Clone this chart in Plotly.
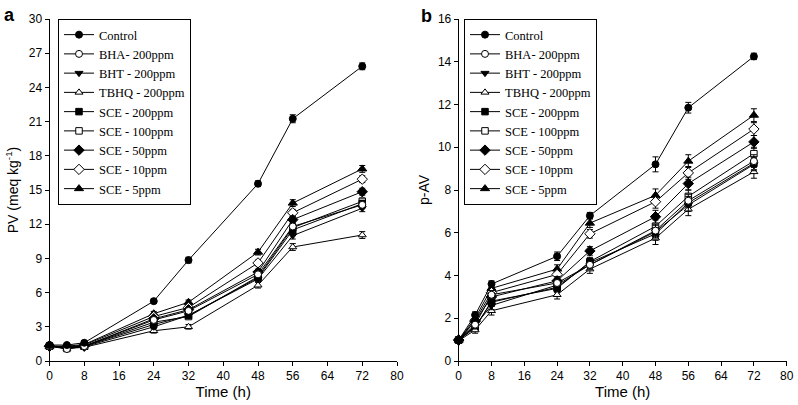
import plotly.graph_objects as go

time_h = [0, 4, 8, 24, 32, 48, 56, 72]

series_names = ["Control", "BHA- 200ppm", "BHT - 200ppm", "TBHQ - 200ppm",
                "SCE - 200ppm", "SCE - 100ppm", "SCE - 50ppm", "SCE - 10ppm", "SCE - 5ppm"]

# Panel a: peroxide value (meq kg-1)
pv_control = [1.4, 1.4, 1.6, 5.25, 8.85, 15.55, 21.25, 25.85]
pv_bha = [1.3, 1.05, 1.3, 3.6, 4.4, 7.6, 11.8, 13.7]
pv_bht = [1.3, 1.2, 1.25, 3.0, 4.0, 7.2, 11.0, 13.4]
pv_tbhq = [1.3, 1.1, 1.2, 2.65, 3.0, 6.65, 10.0, 11.05]
pv_sce200 = [1.3, 1.2, 1.3, 3.2, 4.0, 7.3, 11.5, 13.8]
pv_sce100 = [1.3, 1.1, 1.3, 3.4, 3.9, 7.4, 11.7, 14.0]
pv_sce50 = [1.3, 1.2, 1.3, 3.7, 4.5, 7.8, 12.4, 14.85]
pv_sce10 = [1.3, 1.25, 1.4, 3.9, 4.7, 8.6, 13.0, 15.95]
pv_sce5 = [1.3, 1.3, 1.45, 4.15, 5.15, 9.55, 13.85, 16.85]

pv_err_control = [0.15, 0.15, 0.15, 0.2, 0.25, 0.25, 0.35, 0.3]
pv_err_other = [0.1, 0.1, 0.1, 0.2, 0.2, 0.25, 0.3, 0.3]

# Panel b: p-anisidine value
pav_control = [0.98, 2.15, 3.6, 4.9, 6.8, 9.2, 11.85, 14.25]
pav_bha = [0.98, 1.7, 3.1, 3.65, 4.5, 6.1, 7.5, 9.35]
pav_bht = [0.98, 1.65, 2.6, 3.55, 4.5, 6.05, 7.3, 9.2]
pav_tbhq = [0.95, 1.45, 2.35, 3.1, 4.3, 5.75, 7.1, 8.85]
pav_sce200 = [0.98, 1.6, 2.75, 3.45, 4.6, 5.95, 7.4, 9.25]
pav_sce100 = [0.98, 1.55, 2.8, 3.4, 4.65, 6.3, 7.7, 9.7]
pav_sce50 = [0.98, 1.85, 3.0, 3.75, 5.15, 6.75, 8.3, 10.25]
pav_sce10 = [0.98, 1.9, 3.2, 4.05, 5.95, 7.45, 8.8, 10.85]
pav_sce5 = [0.98, 2.0, 3.4, 4.3, 6.45, 7.75, 9.35, 11.5]

pav_err_control = [0.1, 0.15, 0.15, 0.2, 0.15, 0.35, 0.25, 0.15]
pav_err_other = [0.1, 0.15, 0.2, 0.2, 0.2, 0.3, 0.3, 0.3]

x_ticks = [0, 8, 16, 24, 32, 40, 48, 56, 64, 72, 80]
pv_ticks = [0, 3, 6, 9, 12, 15, 18, 21, 24, 27, 30]
pav_ticks = [0, 2, 4, 6, 8, 10, 12, 14, 16]

symbols = ["circle", "circle", "triangle-down", "triangle-up", "square",
           "square", "diamond", "diamond", "triangle-up"]
fills = ["black", "white", "black", "white", "black", "white", "black", "white", "black"]
sizes = [7, 7, 7, 7, 6.5, 6.5, 8, 8, 8]

pv_data = [pv_control, pv_bha, pv_bht, pv_tbhq, pv_sce200, pv_sce100, pv_sce50, pv_sce10, pv_sce5]
pav_data = [pav_control, pav_bha, pav_bht, pav_tbhq, pav_sce200, pav_sce100, pav_sce50, pav_sce10, pav_sce5]

fig = go.Figure()

def add_panel(data, err_c, err_o, xa, ya, legend):
    # draw in reverse so Control lies on top
    for i in reversed(range(len(series_names))):
        err = err_c if i == 0 else err_o
        fig.add_trace(go.Scatter(
            x=time_h, y=data[i], name=series_names[i], mode="lines+markers",
            xaxis=xa, yaxis=ya, legend=legend, legendrank=i + 1,
            line=dict(color="black", width=1),
            marker=dict(symbol=symbols[i], size=sizes[i], color=fills[i],
                        line=dict(color="black", width=1)),
            error_y=dict(type="data", array=err, visible=True, color="black",
                         thickness=1, width=3),
            cliponaxis=False,
        ))

add_panel(pv_data, pv_err_control, pv_err_other, "x", "y", "legend")
add_panel(pav_data, pav_err_control, pav_err_other, "x2", "y2", "legend2")

W, H = 798, 405
tick_font = dict(family="Liberation Sans, Arial", size=12, color="black")
title_font = dict(family="Liberation Sans, Arial", size=15, color="black")
ytitle_font = dict(family="Liberation Sans, Arial", size=14, color="black")
legend_font = dict(family="Liberation Serif, Times New Roman", size=12.5, color="black")

axis_common = dict(showline=True, linecolor="black", linewidth=1, ticks="outside",
                   ticklen=4, tickcolor="black", tickwidth=1, showgrid=False,
                   zeroline=False, tickfont=tick_font, automargin=False)

fig.update_layout(
    width=W, height=H,
    margin=dict(l=0, r=0, t=19, b=44),
    paper_bgcolor="white", plot_bgcolor="white",
    xaxis=dict(domain=[49.5 / W, 397 / W], range=[0, 80], tickvals=x_ticks,
               title=dict(text="Time (h)", font=title_font, standoff=3), anchor="y",
               **axis_common),
    yaxis=dict(domain=[0, 1], range=[0, 30], tickvals=pv_ticks,
               title=dict(text="PV (meq kg<sup>-1</sup>)", font=ytitle_font, standoff=6),
               anchor="x", **axis_common),
    xaxis2=dict(domain=[458.7 / W, 786.7 / W], range=[0, 80], tickvals=x_ticks,
                title=dict(text="Time (h)", font=title_font, standoff=3), anchor="y2",
                **axis_common),
    yaxis2=dict(domain=[0, 1], range=[0, 16], tickvals=pav_ticks,
                title=dict(text="p-AV", font=ytitle_font, standoff=5),
                anchor="x2", **axis_common),
    legend=dict(x=58 / W, y=1, xanchor="left", yanchor="top", bordercolor="black",
                borderwidth=1, bgcolor="white", font=legend_font,
                traceorder="normal", itemwidth=30),
    legend2=dict(x=464 / W, y=1, xanchor="left", yanchor="top", bordercolor="black",
                 borderwidth=1, bgcolor="white", font=legend_font,
                 traceorder="normal", itemwidth=30),
    showlegend=True,
    annotations=[
        dict(text="<b>a</b>", x=2 / W, y=1 + 4 / 342, xref="paper", yref="paper",
             xanchor="left", yanchor="middle", showarrow=False,
             font=dict(family="Liberation Sans, Arial", size=18, color="black")),
        dict(text="<b>b</b>", x=419 / W, y=1 + 3 / 342, xref="paper", yref="paper",
             xanchor="left", yanchor="middle", showarrow=False,
             font=dict(family="Liberation Sans, Arial", size=18, color="black")),
    ],
)

fig.write_html("out.html", config={"displayModeBar": False},
               post_script="document.body.style.margin='0px';")
